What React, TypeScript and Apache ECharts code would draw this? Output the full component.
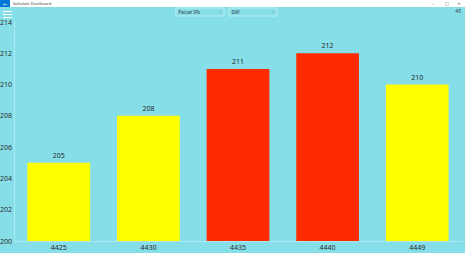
import React, { useEffect, useRef } from "react";
import * as echarts from "echarts";

const categories = ["4425", "4430", "4435", "4440", "4449"];
const values = [205, 208, 211, 212, 210];
const barColors = ["#ffff00", "#ffff00", "#ff2b00", "#ff2b00", "#ffff00"];
const yTicks = [200, 202, 204, 206, 208, 210, 212, 214];
const dropdowns = ["Paccar IPs", "DAY"];

const BG = "#86dfe8";

export default function App() {
  const ref = useRef<HTMLDivElement>(null);

  useEffect(() => {
    if (!ref.current) return;
    const chart = echarts.init(ref.current, undefined, { renderer: "svg" });
    const font = "'Segoe UI', 'Noto Sans', 'DejaVu Sans', sans-serif";

    const graphic: any[] = [
      // window title bar
      { type: "rect", shape: { x: 0, y: 0, width: 465, height: 7 }, style: { fill: "#ffffff" }, silent: true },
      { type: "rect", shape: { x: 0, y: 0, width: 10, height: 7 }, style: { fill: "#0078d7" }, silent: true },
      { type: "text", x: 5, y: 3.5, style: { text: "←", fill: "#ffffff", font: `5px ${font}`, align: "center", verticalAlign: "middle" } },
      { type: "text", x: 13, y: 3.6, style: { text: "Saleslate Dashboard", fill: "#444", font: `4px ${font}`, verticalAlign: "middle" } },
      { type: "text", x: 433, y: 3.6, style: { text: "–", fill: "#555", font: `4px ${font}`, align: "center", verticalAlign: "middle" } },
      { type: "text", x: 447, y: 3.6, style: { text: "□", fill: "#555", font: `4px ${font}`, align: "center", verticalAlign: "middle" } },
      { type: "text", x: 459, y: 3.6, style: { text: "✕", fill: "#555", font: `4px ${font}`, align: "center", verticalAlign: "middle" } },
      // hamburger menu
      ...[11, 14, 17].map((y) => ({
        type: "rect", shape: { x: 3, y, width: 9, height: 1 }, style: { fill: "#ffffff" }, silent: true,
      })),
      // page counter
      { type: "text", x: 461, y: 11, style: { text: "45", fill: "#333", font: `5px ${font}`, align: "right", verticalAlign: "middle" } },
    ];

    dropdowns.forEach((label, i) => {
      const x = 176 + i * 53;
      graphic.push(
        { type: "rect", shape: { x, y: 8, width: 48, height: 8 }, style: { fill: BG, stroke: "#b8eef3", lineWidth: 1 }, silent: true },
        { type: "text", x: x + 2.5, y: 12, style: { text: label, fill: "#333", font: `4.5px ${font}`, verticalAlign: "middle" } },
        { type: "text", x: x + 44, y: 11.6, style: { text: "⌄", fill: "#666", font: `4px ${font}`, align: "center", verticalAlign: "middle" } }
      );
    });

    chart.setOption({
      animation: false,
      backgroundColor: BG,
      textStyle: { fontFamily: font },
      grid: { left: 14, right: 3, top: 22, bottom: 12, outerBoundsMode: "none", containLabel: false },
      xAxis: {
        type: "category",
        data: categories,
        axisLine: { show: true, lineStyle: { color: "#a9eaf0", width: 1 } },
        axisTick: { show: false },
        axisLabel: { color: "#2a2a2a", fontSize: 7, margin: 3 },
      },
      yAxis: {
        type: "value",
        min: yTicks[0],
        max: yTicks[yTicks.length - 1],
        interval: 2,
        axisLine: { show: true, lineStyle: { color: "#a9eaf0", width: 1 } },
        axisTick: { show: false },
        splitLine: { show: false },
        axisLabel: { color: "#2a2a2a", fontSize: 7, margin: 2 },
      },
      series: [
        {
          type: "bar",
          barWidth: "70%",
          data: values.map((v, i) => ({ value: v, itemStyle: { color: barColors[i] } })),
          label: { show: true, position: "top", color: "#2a2a2a", fontSize: 7, distance: 4 },
        },
      ],
      graphic,
    });

    return () => chart.dispose();
  }, []);

  return (
    <div
      ref={ref}
      style={{ position: "fixed", left: 0, top: 0, width: 465, height: 253 }}
    />
  );
}
